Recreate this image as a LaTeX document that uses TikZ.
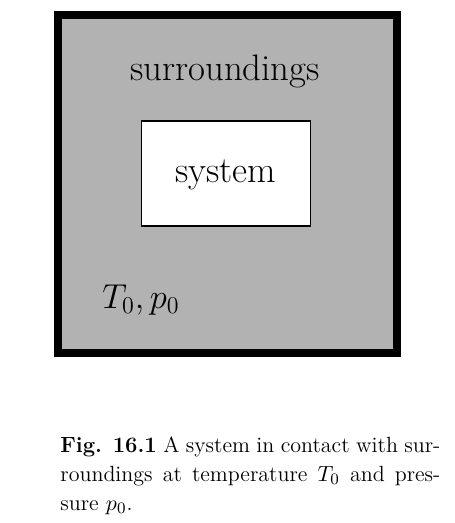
\documentclass[tikz,border=0pt]{standalone}
\begin{document}
\begin{tikzpicture}[x=0.5pt,y=-0.5pt,
  bigtext/.style={font=\fontsize{18.4}{22}\selectfont, inner sep=0pt},
  mathtext/.style={font=\fontsize{16.8}{20}\selectfont, inner sep=0pt},
  outerbox/.style={draw=black, line width=4pt, fill=gray!60},
  innerbox/.style={draw=black, line width=0.8pt, fill=white}]
\useasboundingbox (0,0) rectangle (454,523);
\draw[outerbox] (57.5,15.5) rectangle (396.5,352.5);
\node[innerbox, minimum width=84.5pt, minimum height=52.5pt, inner sep=0pt] (sys) at (226,173.5) {};
\node[bigtext] (systext) at (226,175) {system};
\node[bigtext] (sur) at (225,71) {surroundings};
\node[mathtext] (tp) at (141,300) {$T_0, p_0$};
\node[anchor=north west, inner sep=0pt, text width=190pt, align=justify,
  font=\fontsize{11}{14.6}\selectfont] (cap) at (60,436)
  {\hyphenpenalty=10000 \exhyphenpenalty=0 \textbf{Fig. 16.1} A system in contact with sur-\linebreak roundings at temperature $T_0$ and pres-\linebreak sure $p_0$.};
\end{tikzpicture}
\end{document}
